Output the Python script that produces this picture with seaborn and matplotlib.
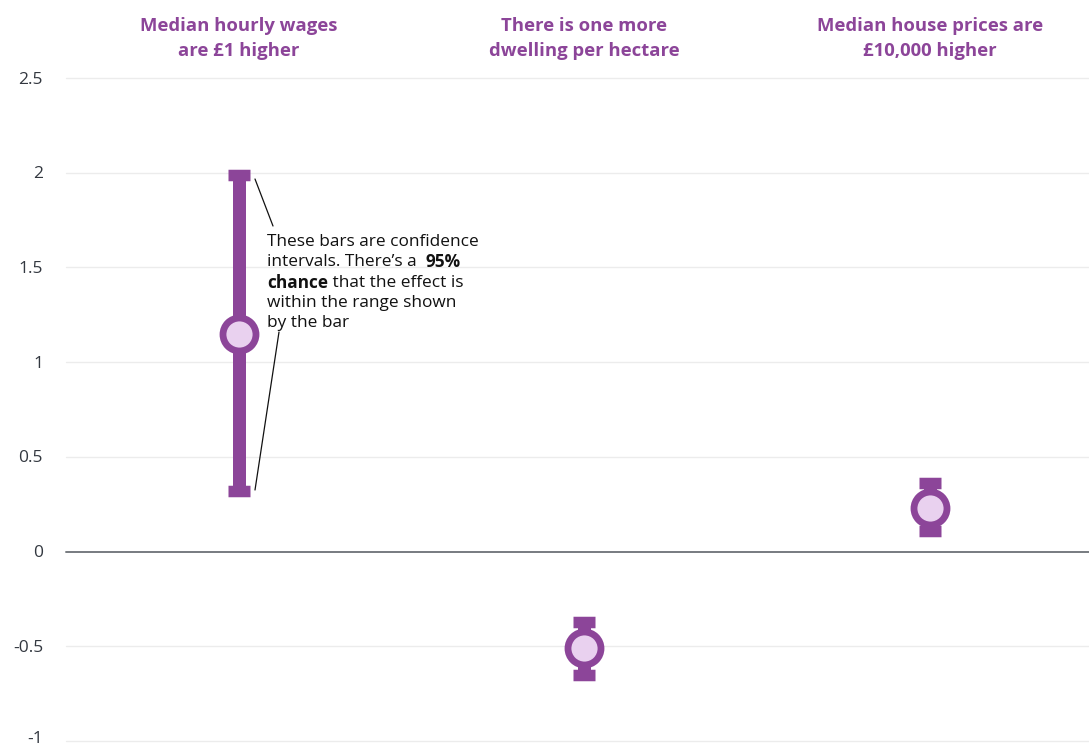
import matplotlib
matplotlib.use("Agg")
import matplotlib.pyplot as plt
import matplotlib.transforms as mtransforms
import seaborn as sns
import pandas as pd

# Estimated effects and 95% confidence intervals
titles = [
    "Median hourly wages\nare £1 higher",
    "There is one more\ndwelling per hectare",
    "Median house prices are\n£10,000 higher",
]
effect = [1.15, -0.51, 0.23]
ci_low = [0.32, -0.65, 0.11]
ci_high = [1.99, -0.37, 0.36]
y_ticks = [-1, -0.5, 0, 0.5, 1, 1.5, 2, 2.5]
y_tick_labels = ["-1", "-0.5", "0", "0.5", "1", "1.5", "2", "2.5"]

PURPLE = "#8c4599"
LIGHT = "#e9d1ef"

sns.set_theme(style="white")
plt.rcParams["font.family"] = ["Open Sans", "DejaVu Sans"]

W, H, DPI = 1089, 747, 100
fig = plt.figure(figsize=(W / DPI, H / DPI), dpi=DPI)
ax = fig.add_axes([66 / W, (H - 741) / H, (W - 66) / W, (741 - 78) / H])

df = pd.DataFrame({"pos": range(len(effect)), "effect": effect,
                   "low": ci_low, "high": ci_high})

px2pt = 72 / DPI

# Confidence interval bars with thick square caps
ax.errorbar(df["pos"], df["effect"],
            yerr=[df["effect"] - df["low"], df["high"] - df["effect"]],
            fmt="none", ecolor=PURPLE, elinewidth=13 * px2pt,
            capsize=11.5 * px2pt, capthick=11.5 * px2pt, zorder=3)

# Point estimates
sns.scatterplot(data=df, x="pos", y="effect", ax=ax, s=(33 * px2pt) ** 2,
                color=LIGHT, edgecolor=PURPLE, linewidth=6.8 * px2pt,
                zorder=4, legend=False)

ax.set_xlim(-0.5, 2.46)
ax.set_ylim(-1, 2.5)
ax.set_yticks(y_ticks)
ax.set_yticklabels([])
ax.set_xticks([])
ax.set_xlabel("")
ax.set_ylabel("")
ax.tick_params(axis="y", length=0)

# Y tick labels, right-aligned against the plot; the lowest nudged up to stay in frame
label_tf = mtransforms.blended_transform_factory(ax.transAxes, ax.transData)
for y, lab in zip(y_ticks, y_tick_labels):
    dy = (2 if y == y_ticks[0] else -1.5) / DPI
    tf = label_tf + mtransforms.ScaledTranslation(-23 / DPI, dy, fig.dpi_scale_trans)
    ax.text(0, y, lab, transform=tf, ha="right", va="center", fontsize=12.5,
            color="#333840", clip_on=False)

for y in y_ticks:
    if y == 0:
        ax.axhline(0, color="#777b80", lw=1.4, zorder=1, clip_on=False)
    else:
        ax.axhline(y, color="#ececec", lw=1.0, zorder=1, clip_on=False)

for side in ax.spines.values():
    side.set_visible(False)

# Column headings above each estimate
for i, t in enumerate(titles):
    x_fig = fig.transFigure.inverted().transform(ax.transData.transform((i, 0)))[0]
    fig.text(x_fig, 1 - 38.5 / H, t, ha="center", va="center", fontsize=13.3,
             fontweight="bold", color=PURPLE, linespacing=1.55)

# Explanatory note with leader lines to the interval ends
def fpt(x, y):
    return (x / W, 1 - y / H)

note_lines = [
    [("These bars are confidence", "normal")],
    [("intervals. There’s a  ", "normal"), ("95%", "bold")],
    [("chance", "bold"), (" that the effect is", "normal")],
    [("within the range shown", "normal")],
    [("by the bar", "normal")],
]
fig.canvas.draw()
renderer = fig.canvas.get_renderer()
x0 = 267
for k, parts in enumerate(note_lines):
    yy = 242 + k * 20.3
    xx = x0
    for txt, wt in parts:
        t = fig.text(*fpt(xx, yy), txt, ha="left", va="center", fontsize=12.4,
                     fontweight=wt, color="#111111")
        bb = t.get_window_extent(renderer)
        xx += bb.width

for (xa, ya), (xb, yb) in [((255, 179), (273, 226)), ((255, 490), (279, 332))]:
    fig.add_artist(plt.Line2D([xa / W, xb / W], [1 - ya / H, 1 - yb / H],
                              color="#111111", lw=0.9))

fig.savefig("out.png", dpi=DPI)
